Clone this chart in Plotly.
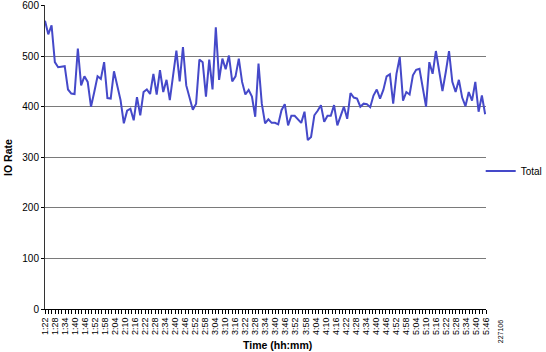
import plotly.graph_objects as go

# ---- data -------------------------------------------------------------
start_min = 82          # 1:22
end_min = 345.5         # last sample ~5:45
io_total = [
    570, 543, 561, 488, 478, 479, 480, 434, 426, 425,
    515, 442, 460, 449, 400, 429, 460, 455, 488, 417,
    416, 470, 442, 413, 367, 392, 396, 373, 419, 383,
    429, 434, 425, 465, 424, 472, 429, 453, 413, 458,
    511, 450, 518, 442, 420, 394, 406, 493, 488, 420,
    493, 434, 557, 453, 495, 474, 501, 450, 460, 495,
    449, 424, 433, 420, 380, 485, 406, 367, 375, 368,
    368, 365, 393, 405, 363, 382, 382, 375, 368, 390,
    334, 340, 383, 392, 403, 370, 382, 382, 403, 363,
    382, 400, 376, 427, 418, 416, 400, 406, 405, 399,
    422, 434, 416, 433, 460, 464, 406, 465, 498, 412,
    429, 424, 462, 473, 475, 440, 400, 488, 465, 510,
    468, 431, 468, 510, 449, 429, 453, 418, 401, 429,
    412, 449, 390, 422, 385,
]
n = len(io_total)
step = (end_min - start_min) / (n - 1)
sample_minutes = [start_min + i * step for i in range(n)]

tick_labels = [
    "1:22", "1:28", "1:34", "1:40", "1:46", "1:52", "1:58", "2:04", "2:10",
    "2:16", "2:22", "2:28", "2:34", "2:40", "2:46", "2:52", "2:58", "3:04",
    "3:10", "3:16", "3:22", "3:28", "3:34", "3:40", "3:46", "3:52", "3:58",
    "4:04", "4:10", "4:16", "4:22", "4:28", "4:34", "4:40", "4:46", "4:52",
    "4:58", "5:04", "5:10", "5:16", "5:22", "5:28", "5:34", "5:40", "5:46",
]
tick_minutes = [int(t.split(":")[0]) * 60 + int(t.split(":")[1]) for t in tick_labels]
y_ticks = [0, 100, 200, 300, 400, 500, 600]

FONT = "Arial, 'Liberation Sans', sans-serif"

fig = go.Figure()
fig.add_trace(go.Scatter(
    x=sample_minutes, y=io_total, mode="lines", name="Total",
    line=dict(color="#4549C9", width=2),
))

fig.update_layout(
    width=546, height=352, autosize=False,
    margin=dict(l=45, r=60, t=5, b=43, autoexpand=False),
    paper_bgcolor="white", plot_bgcolor="white",
    font=dict(family=FONT, color="black", size=10),
    showlegend=True,
    legend=dict(x=0.988, y=0.454, xanchor="left", yanchor="middle",
                font=dict(size=10), bgcolor="rgba(0,0,0,0)"),
    xaxis=dict(
        range=[tick_minutes[0], tick_minutes[-1]],
        tickmode="array", tickvals=tick_minutes, ticktext=tick_labels,
        tickangle=-90, tickfont=dict(size=9),
        ticks="outside", ticklen=4, tickcolor="black",
        minor=dict(ticks="outside", dtick=2, tick0=tick_minutes[0],
                   ticklen=4, tickcolor="black", showgrid=False),
        showline=True, linecolor="black", linewidth=1,
        showgrid=False, zeroline=False, automargin=False,
    ),
    yaxis=dict(
        range=[0, 601], tickmode="array", tickvals=y_ticks,
        tickfont=dict(size=10),
        ticks="outside", ticklen=3, tickcolor="black",
        showline=True, linecolor="#333333", linewidth=1,
        showgrid=True, gridcolor="#7a7a7a", gridwidth=1,
        zeroline=False, automargin=False,
    ),
    annotations=[
        dict(text="<b>Time (hh:mm)</b>", xref="paper", yref="paper",
             x=0.528, y=-0.118, xanchor="center", yanchor="middle",
             showarrow=False, font=dict(size=10.5)),
        dict(text="<b>IO Rate</b>", xref="paper", yref="paper",
             x=-0.084, y=0.5, xanchor="center", yanchor="middle",
             textangle=-90, showarrow=False, font=dict(size=10.5)),
        dict(text="227106", xref="paper", yref="paper",
             x=1.032, y=-0.076, xanchor="center", yanchor="middle",
             textangle=-90, showarrow=False, font=dict(size=7)),
    ],
)

fig.write_html("out.html")
